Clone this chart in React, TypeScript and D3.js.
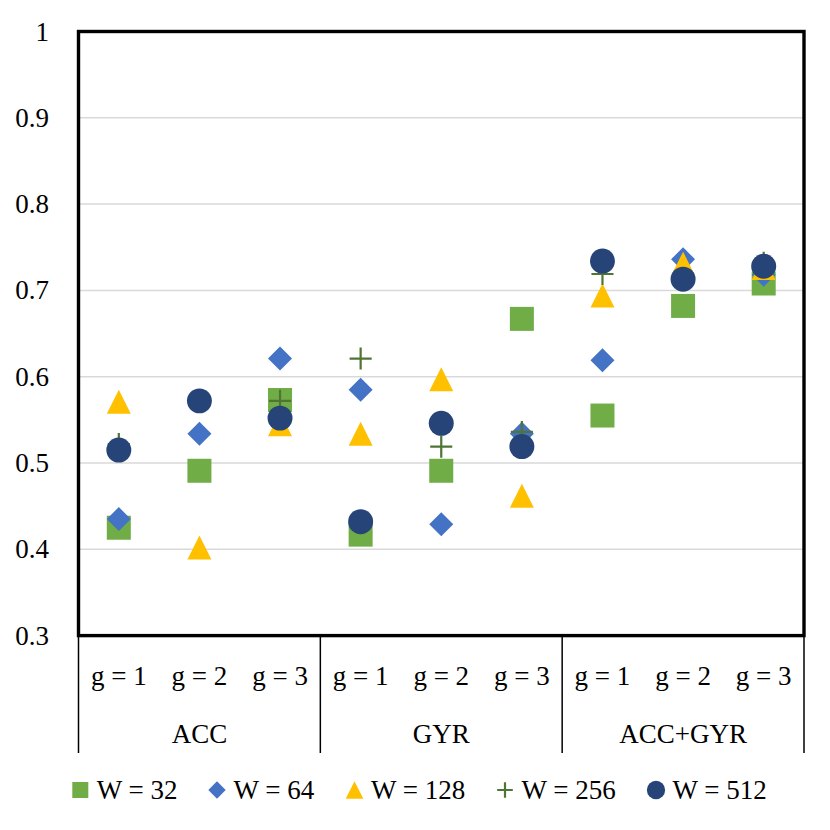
import React from "react";
import * as d3 from "d3";

const groups = ["ACC", "GYR", "ACC+GYR"];
const subLabels = ["g = 1", "g = 2", "g = 3"];
const categories = groups.flatMap((g) => subLabels.map((s) => `${g}|${s}`));

const w32 = [0.425, 0.491, 0.573, 0.417, 0.491, 0.667, 0.555, 0.682, 0.708];
const w64 = [0.435, 0.534, 0.621, 0.585, 0.429, 0.534, 0.619, 0.736, 0.718];
const w128 = [0.571, 0.402, 0.545, 0.534, 0.597, 0.462, 0.694, 0.731, 0.726];
const w256 = [0.522, 0.572, 0.572, 0.621, 0.519, 0.536, 0.719, 0.713, 0.732];
const w512 = [0.515, 0.572, 0.552, 0.432, 0.546, 0.519, 0.734, 0.713, 0.728];

const yTicks = [0.3, 0.4, 0.5, 0.6, 0.7, 0.8, 0.9, 1];
const seriesNames = ["W = 32", "W = 64", "W = 128", "W = 256", "W = 512"];

type Shape = "square" | "diamond" | "triangle" | "plus" | "circle";
const series: { name: string; values: number[]; shape: Shape; color: string }[] = [
  { name: seriesNames[0], values: w32, shape: "square", color: "#70AD47" },
  { name: seriesNames[1], values: w64, shape: "diamond", color: "#4472C4" },
  { name: seriesNames[2], values: w128, shape: "triangle", color: "#FFC000" },
  { name: seriesNames[3], values: w256, shape: "plus", color: "#4F7535" },
  { name: seriesNames[4], values: w512, shape: "circle", color: "#264478" },
];

const FONT = "'Liberation Serif', 'Times New Roman', serif";
const FS = 27;

function Marker({ shape, color, cx, cy, s }: { shape: Shape; color: string; cx: number; cy: number; s: number }) {
  const h = s / 2;
  switch (shape) {
    case "square":
      return <rect x={cx - h} y={cy - h} width={s} height={s} fill={color} />;
    case "diamond":
      return <path d={`M${cx},${cy - h}L${cx + h},${cy}L${cx},${cy + h}L${cx - h},${cy}Z`} fill={color} />;
    case "triangle":
      return <path d={`M${cx},${cy - h}L${cx + h},${cy + h}L${cx - h},${cy + h}Z`} fill={color} />;
    case "plus": {
      const p = h * 0.92;
      return (
        <path
          d={`M${cx - p},${cy}L${cx + p},${cy}M${cx},${cy - p}L${cx},${cy + p}`}
          stroke={color}
          strokeWidth={2.2}
          fill="none"
        />
      );
    }
    case "circle":
      return <circle cx={cx} cy={cy} r={h * 1.04} fill={color} />;
  }
}

export default function App() {
  const W = 830;
  const H = 830;
  const left = 78.5;
  const right = 804;
  const top = 31.5;
  const bottom = 635.6;

  const x = d3.scaleBand<string>().domain(categories).range([left, right]).padding(0);
  const y = d3.scaleLinear().domain([0.3, 1]).range([bottom, top]);
  const gx = d3.scaleBand<string>().domain(groups).range([left, right]).padding(0);

  const legendX = [80.3, 217, 354.5, 505, 656];
  const legendSize = [16, 17.4, 17.6, 17, 17.6];

  return (
    <svg
      width={W}
      height={H}
      viewBox={`0 0 ${W} ${H}`}
      style={{ position: "absolute", left: 0, top: 0, background: "#fff" }}
    >
      <rect x={0} y={0} width={W} height={H} fill="#fff" />
      {yTicks
        .filter((t) => t > 0.3 && t < 1)
        .map((t) => (
          <line key={t} x1={left} x2={right} y1={y(t)} y2={y(t)} stroke="#D9D9D9" strokeWidth={1.5} />
        ))}
      {yTicks.map((t) => (
        <text key={t} x={49} y={y(t) + 9} textAnchor="end" fontFamily={FONT} fontSize={FS} fill="#000">
          {String(+t.toFixed(1))}
        </text>
      ))}
      {series.map((s) => (
        <g key={s.name}>
          {s.values.map((v, i) => (
            <Marker
              key={i}
              shape={s.shape}
              color={s.color}
              cx={(x(categories[i]) as number) + x.bandwidth() / 2}
              cy={y(v)}
              s={24}
            />
          ))}
        </g>
      ))}
      <rect x={left} y={top} width={right - left} height={bottom - top} fill="none" stroke="#000" strokeWidth={3.4} />
      {[...groups.map((g) => gx(g) as number), right].map((xx, i) => (
        <line key={i} x1={xx} x2={xx} y1={bottom} y2={753} stroke="#000" strokeWidth={1.5} />
      ))}
      {categories.map((c) => (
        <text
          key={c}
          x={(x(c) as number) + x.bandwidth() / 2}
          y={685}
          textAnchor="middle"
          fontFamily={FONT}
          fontSize={FS}
          fill="#000"
        >
          {c.split("|")[1]}
        </text>
      ))}
      {groups.map((g) => (
        <text
          key={g}
          x={(gx(g) as number) + gx.bandwidth() / 2}
          y={743}
          textAnchor="middle"
          fontFamily={FONT}
          fontSize={FS}
          fill="#000"
        >
          {g}
        </text>
      ))}
      {series.map((s, i) => (
        <g key={s.name}>
          <Marker shape={s.shape} color={s.color} cx={legendX[i]} cy={790} s={legendSize[i]} />
          <text x={legendX[i] + 16.5} y={799} fontFamily={FONT} fontSize={FS} fill="#000">
            {s.name}
          </text>
        </g>
      ))}
    </svg>
  );
}
